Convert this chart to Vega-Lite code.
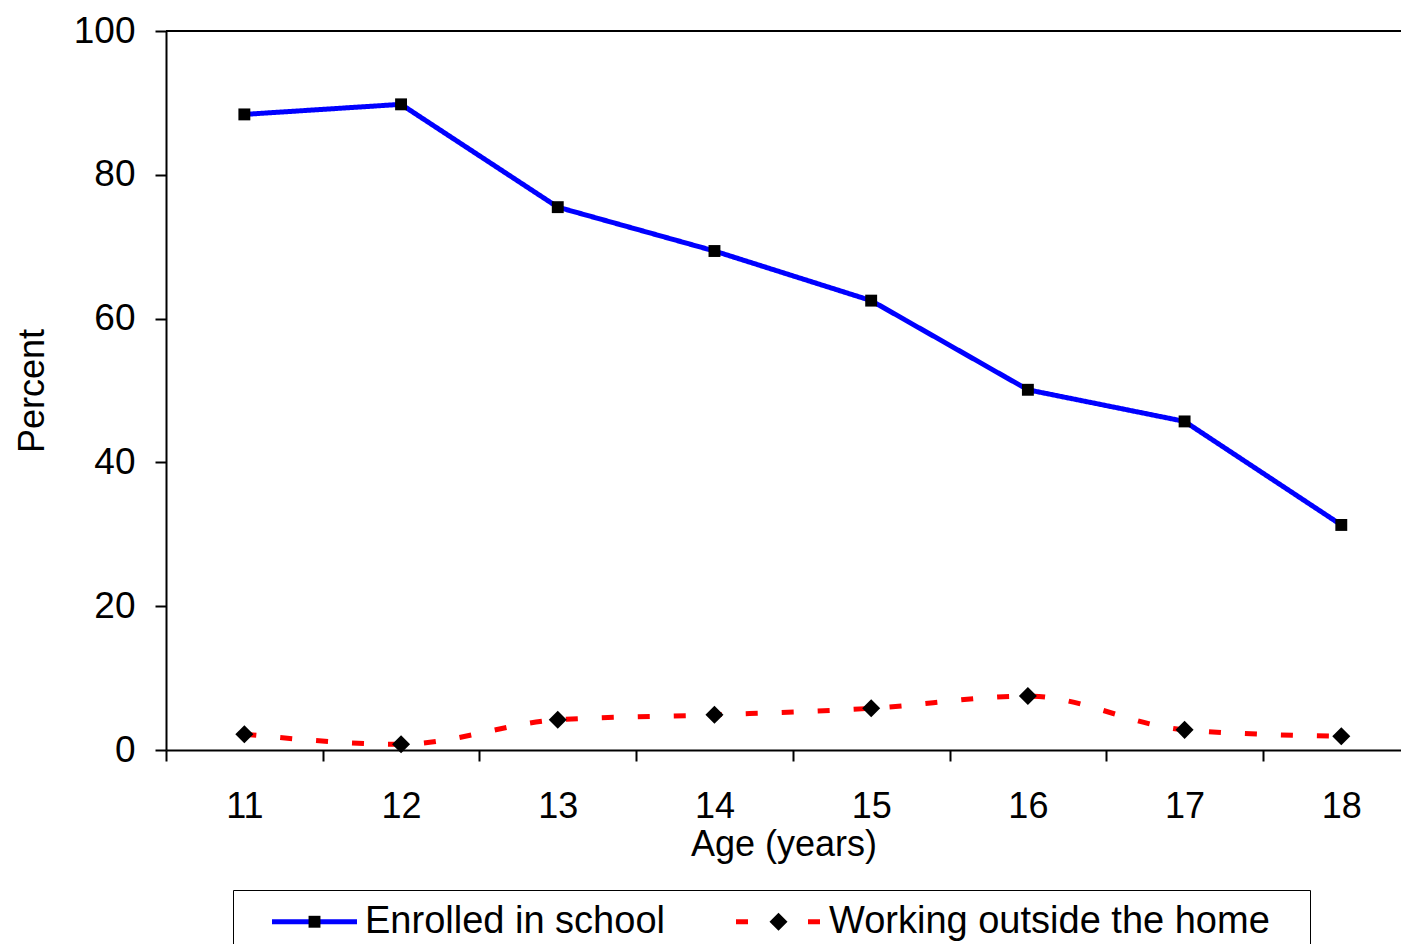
{
  "$schema": "https://vega.github.io/schema/vega-lite/v6.json",
  "autosize": {"type": "none"},
  "padding": {"left": 166, "top": 31, "right": 0, "bottom": 194},
  "width": 1235,
  "height": 719,
  "background": "white",
  "config": {
    "view": {"stroke": null},
    "font": "Liberation Sans",
    "axis": {"labelFont": "Liberation Sans", "titleFont": "Liberation Sans", "labelColor": "black", "titleColor": "black", "titleFontWeight": "normal", "domainColor": "black", "tickColor": "black", "domainWidth": 2, "tickWidth": 2, "grid": false}
  },
  "data": {
    "values": [
      {"age": 11, "series": "Enrolled in school", "value": 88.4},
      {"age": 12, "series": "Enrolled in school", "value": 89.8},
      {"age": 13, "series": "Enrolled in school", "value": 75.5},
      {"age": 14, "series": "Enrolled in school", "value": 69.4},
      {"age": 15, "series": "Enrolled in school", "value": 62.5},
      {"age": 16, "series": "Enrolled in school", "value": 50.1},
      {"age": 17, "series": "Enrolled in school", "value": 45.7},
      {"age": 18, "series": "Enrolled in school", "value": 31.3},
      {"age": 11, "series": "Working outside the home", "value": 2.2},
      {"age": 12, "series": "Working outside the home", "value": 0.8},
      {"age": 13, "series": "Working outside the home", "value": 4.2},
      {"age": 14, "series": "Working outside the home", "value": 4.9},
      {"age": 15, "series": "Working outside the home", "value": 5.8},
      {"age": 16, "series": "Working outside the home", "value": 7.5},
      {"age": 17, "series": "Working outside the home", "value": 2.8},
      {"age": 18, "series": "Working outside the home", "value": 1.9}
    ]
  },
  "encoding": {
    "x": {
      "field": "age", "type": "quantitative",
      "scale": {"domain": [10.5, 18.381], "nice": false, "zero": false},
      "axis": {
        "title": "Age (years)",
        "titleFontSize": 36,
        "titlePadding": 3,
        "labelFontSize": 36,
        "labelPadding": 28,
        "tickSize": 11,
        "values": [10.5, 11, 11.5, 12, 12.5, 13, 13.5, 14, 14.5, 15, 15.5, 16, 16.5, 17, 17.5, 18],
        "labelExpr": "datum.value % 1 === 0 ? format(datum.value, 'd') : ''",
        "tickOpacity": {"condition": {"test": "datum.value % 1 !== 0", "value": 1}, "value": 0},
        "labelOverlap": false,
        "labelBound": false,
        "labelFlush": false
      }
    },
    "y": {
      "field": "value", "type": "quantitative",
      "scale": {"domain": [0, 100], "nice": false},
      "axis": {
        "title": "Percent",
        "titleFontSize": 36,
        "titlePadding": 22,
        "labelFontSize": 37,
        "labelPadding": 20,
        "tickSize": 11,
        "values": [0, 20, 40, 60, 80, 100]
      }
    }
  },
  "layer": [
    {
      "mark": {"type": "rule", "color": "black", "strokeWidth": 2},
      "encoding": {"y": {"datum": 100}, "x": null}
    },
    {
      "transform": [{"filter": "datum.series === 'Enrolled in school'"}],
      "mark": {"type": "line", "strokeWidth": 5},
      "encoding": {
        "color": {
          "field": "series", "type": "nominal",
          "scale": {"domain": ["Enrolled in school", "Working outside the home"], "range": ["#0000ff", "#ff0000"]},
          "legend": {"orient": "none", "legendX": 67, "legendY": 859, "direction": "horizontal", "columns": 2, "title": " ", "titleOrient": "right", "titlePadding": 28, "titleFontSize": 10, "symbolType": "M-2.5,0H2.5", "symbolSize": 1156, "symbolStrokeWidth": 5, "symbolOffset": 50, "labelOffset": 31, "columnPadding": 44, "padding": 12, "strokeColor": "black", "labelFontSize": 38, "labelFont": "Liberation Sans", "labelColor": "black", "labelLimit": 0, "zindex": 0, "encoding": {"legend": {"update": {"strokeWidth": {"value": 2}}}}}
        },
        "strokeDash": {
          "field": "series", "type": "nominal",
          "scale": {"domain": ["Enrolled in school", "Working outside the home"], "range": [[1, 0], [12, 24]]},
          "legend": {"orient": "none", "legendX": 67, "legendY": 859, "direction": "horizontal", "columns": 2, "title": " ", "titleOrient": "right", "titlePadding": 28, "titleFontSize": 10, "symbolType": "M-2.5,0H2.5", "symbolSize": 1156, "symbolStrokeWidth": 5, "symbolOffset": 50, "labelOffset": 31, "columnPadding": 44, "padding": 12, "strokeColor": "black", "labelFontSize": 38, "labelFont": "Liberation Sans", "labelColor": "black", "labelLimit": 0, "zindex": 0, "encoding": {"legend": {"update": {"strokeWidth": {"value": 2}}}}}
        }
      }
    },
    {
      "transform": [{"filter": "datum.series === 'Working outside the home'"}],
      "mark": {"type": "line", "strokeWidth": 5, "interpolate": "monotone", "strokeCap": "butt"},
      "encoding": {
        "color": {"field": "series", "type": "nominal"},
        "strokeDash": {"field": "series", "type": "nominal"}
      }
    },
    {
      "mark": {"type": "point", "filled": true, "color": "black", "size": 1156, "opacity": 1, "strokeWidth": 0},
      "encoding": {
        "shape": {
          "field": "series", "type": "nominal",
          "scale": {"range": ["M-0.35,-0.35H0.35V0.35H-0.35Z", "M-0.53,0L0,-0.53L0.53,0L0,0.53Z"]},
          "legend": {"orient": "none", "legendX": 67, "legendY": 859, "direction": "horizontal", "columns": 2, "title": " ", "titleOrient": "right", "titlePadding": 28, "titleFontSize": 10, "symbolSize": 1156, "symbolStrokeWidth": 5, "symbolStrokeColor": "transparent", "symbolFillColor": "black", "symbolOffset": 50, "labelOffset": 31, "columnPadding": 44, "padding": 12, "strokeColor": "transparent", "labelFontSize": 38, "labelFont": "Liberation Sans", "labelOpacity": 0, "labelLimit": 0, "zindex": 1}
        }
      }
    }
  ]
}
